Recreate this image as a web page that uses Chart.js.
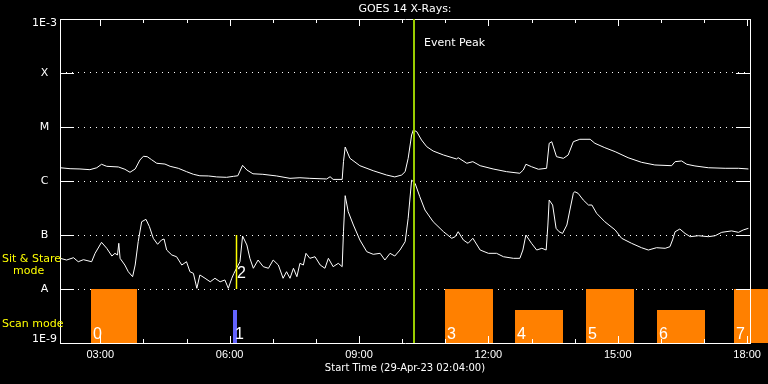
<!DOCTYPE html>
<html>
<head>
<meta charset="utf-8">
<script src="https://cdn.jsdelivr.net/npm/chart.js@4"></script>
<style>
  html, body { margin: 0; padding: 0; background: #000; }
</style>
</head>
<body>
<canvas id="goesChart" width="768" height="384"></canvas>
<script>
// GOES 14 X-ray flux (W/m2), 29-Apr-23, time in decimal hours UT
const longT = [2.07, 2.30, 2.53, 2.76, 2.92, 3.03, 3.15, 3.42, 3.57, 3.69,
  3.81, 3.92, 4.00, 4.09, 4.19, 4.31, 4.50, 4.62, 4.81, 5.00,
  5.16, 5.31, 5.51, 5.70, 5.93, 6.09, 6.19, 6.30, 6.40, 6.54,
  6.77, 7.09, 7.40, 7.63, 7.86, 8.25, 8.33, 8.40, 8.61, 8.64,
  8.68, 8.79, 9.02, 9.33, 9.64, 9.83, 9.99, 10.07, 10.14, 10.22,
  10.26, 10.34, 10.45, 10.57, 10.72, 10.96, 11.26, 11.30, 11.50, 11.64,
  11.81, 12.11, 12.42, 12.73, 12.81, 12.87, 13.00, 13.16, 13.35, 13.41,
  13.47, 13.58, 13.74, 13.85, 13.97, 14.12, 14.36, 14.47, 14.70, 14.94,
  15.24, 15.55, 15.86, 16.25, 16.33, 16.48, 16.60, 16.79, 17.10, 17.49,
  17.80, 18.03];
const longF = [1.76e-6, 1.69e-6, 1.67e-6, 1.62e-6, 1.76e-6, 2.04e-6, 1.87e-6, 1.82e-6, 1.65e-6, 1.45e-6,
  1.67e-6, 2.45e-6, 2.87e-6, 2.82e-6, 2.48e-6, 2.13e-6, 2.06e-6, 1.87e-6, 1.72e-6, 1.49e-6,
  1.33e-6, 1.25e-6, 1.24e-6, 1.19e-6, 1.17e-6, 1.22e-6, 1.25e-6, 1.95e-6, 1.60e-6, 1.36e-6,
  1.33e-6, 1.24e-6, 1.12e-6, 1.15e-6, 1.12e-6, 1.09e-6, 1.20e-6, 1.07e-6, 1.07e-6, 2.28e-6,
  4.26e-6, 2.63e-6, 1.92e-6, 1.55e-6, 1.29e-6, 1.19e-6, 1.29e-6, 1.49e-6, 2.63e-6, 7.11e-6,
  8.80e-6, 8.18e-6, 5.74e-6, 4.32e-6, 3.59e-6, 3.03e-6, 2.56e-6, 2.70e-6, 2.13e-6, 2.28e-6,
  1.92e-6, 1.67e-6, 1.49e-6, 1.39e-6, 1.60e-6, 2.04e-6, 1.84e-6, 1.65e-6, 1.72e-6, 4.99e-6,
  5.34e-6, 2.82e-6, 2.63e-6, 3.03e-6, 5.34e-6, 5.92e-6, 5.92e-6, 4.99e-6, 4.14e-6, 3.49e-6,
  2.70e-6, 2.22e-6, 1.98e-6, 1.92e-6, 2.28e-6, 2.35e-6, 2.04e-6, 1.90e-6, 1.76e-6, 1.72e-6,
  1.72e-6, 1.67e-6];

const shortT = [2.07, 2.22, 2.38, 2.49, 2.61, 2.80, 2.88, 3.03, 3.15, 3.27,
  3.34, 3.40, 3.43, 3.46, 3.57, 3.65, 3.75, 3.81, 3.88, 3.96,
  4.06, 4.14, 4.23, 4.33, 4.42, 4.48, 4.54, 4.66, 4.77, 4.89,
  5.00, 5.08, 5.16, 5.24, 5.31, 5.43, 5.55, 5.66, 5.78, 5.89,
  5.97, 6.05, 6.10, 6.16, 6.24, 6.30, 6.40, 6.47, 6.55, 6.66,
  6.78, 6.90, 7.01, 7.13, 7.24, 7.32, 7.40, 7.48, 7.56, 7.63,
  7.71, 7.77, 7.86, 7.98, 8.10, 8.21, 8.29, 8.40, 8.52, 8.61,
  8.64, 8.68, 8.75, 8.87, 9.02, 9.18, 9.33, 9.49, 9.60, 9.72,
  9.83, 9.95, 10.07, 10.14, 10.22, 10.30, 10.41, 10.53, 10.72, 10.96,
  11.15, 11.23, 11.30, 11.42, 11.53, 11.64, 11.81, 12.00, 12.19, 12.35,
  12.58, 12.73, 12.80, 12.87, 13.00, 13.12, 13.24, 13.34, 13.38, 13.41,
  13.49, 13.57, 13.64, 13.72, 13.82, 13.89, 13.97, 14.00, 14.08, 14.20,
  14.32, 14.40, 14.51, 14.70, 14.94, 15.09, 15.32, 15.55, 15.71, 15.90,
  16.10, 16.21, 16.27, 16.33, 16.44, 16.56, 16.68, 16.87, 17.10, 17.26,
  17.41, 17.64, 17.80, 17.91, 18.03];
const shortF = [3.70e-8, 3.44e-8, 3.80e-8, 3.20e-8, 3.49e-8, 3.20e-8, 4.58e-8, 7.32e-8, 5.67e-8, 4.08e-8,
  4.58e-8, 4.26e-8, 7.02e-8, 3.70e-8, 2.78e-8, 2.09e-8, 1.69e-8, 2.78e-8, 7.52e-8, 1.76e-7,
  1.95e-7, 1.43e-7, 8.69e-8, 6.73e-8, 8.08e-8, 8.43e-8, 5.27e-8, 4.26e-8, 3.96e-8, 2.78e-8,
  3.20e-8, 2.09e-8, 1.95e-8, 1.03e-8, 1.82e-8, 1.58e-8, 1.36e-8, 1.58e-8, 1.36e-8, 1.47e-8,
  1.03e-8, 1.58e-8, 1.95e-8, 2.42e-8, 3.20e-8, 9.58e-8, 6.53e-8, 3.70e-8, 2.42e-8, 3.44e-8,
  2.59e-8, 2.42e-8, 3.44e-8, 2.78e-8, 1.58e-8, 2.09e-8, 1.58e-8, 2.42e-8, 1.69e-8, 2.99e-8,
  2.78e-8, 4.58e-8, 3.70e-8, 3.96e-8, 2.78e-8, 2.42e-8, 3.70e-8, 2.59e-8, 2.99e-8, 2.59e-8,
  1.15e-7, 5.35e-7, 2.70e-7, 1.53e-7, 8.08e-8, 4.91e-8, 4.39e-8, 4.58e-8, 3.44e-8, 4.58e-8,
  4.08e-8, 5.27e-8, 7.52e-8, 2.04e-7, 1.04e-6, 9.06e-7, 5.12e-7, 2.90e-7, 1.76e-7, 1.15e-7,
  8.69e-8, 9.30e-8, 1.15e-7, 8.08e-8, 7.02e-8, 8.69e-8, 5.27e-8, 4.58e-8, 4.58e-8, 3.96e-8,
  3.70e-8, 3.70e-8, 5.27e-8, 1.00e-7, 7.02e-8, 5.27e-8, 5.67e-8, 5.27e-8, 1.53e-7, 4.45e-7,
  3.59e-7, 1.33e-7, 1.15e-7, 1.07e-7, 1.53e-7, 2.90e-7, 5.92e-7, 6.34e-7, 5.92e-7, 4.45e-7,
  3.59e-7, 3.59e-7, 2.52e-7, 1.76e-7, 1.24e-7, 8.69e-8, 7.02e-8, 5.82e-8, 5.27e-8, 5.82e-8,
  5.67e-8, 6.07e-8, 8.08e-8, 1.15e-7, 1.29e-7, 1.07e-7, 9.30e-8, 9.70e-8, 9.30e-8, 9.70e-8,
  1.12e-7, 1.19e-7, 1.12e-7, 1.24e-7, 1.33e-7];

// axes
const xMin = 2 + 4 / 60;   // 02:04
const xMax = 18 + 4 / 60;
const hourTicks = [3, 4, 5, 6, 7, 8, 9, 10, 11, 12, 13, 14, 15, 16, 17, 18];
const hourLabels = ['03:00', '', '', '06:00', '', '', '09:00', '', '', '12:00', '', '', '15:00', '', '', '18:00'];
const yTickVals = [1e-9, 1e-8, 1e-7, 1e-6, 1e-5, 1e-4, 1e-3];
const yTickLabels = ['1E-9', 'A', 'B', 'C', 'M', 'X', '1E-3'];

// instrument modes
const scanNames = ['0', '1', '3', '4', '5', '6', '7'];
const scanStart = [2.79, 6.07, 10.99, 12.62, 14.26, 15.91, 17.70];
const scanEnd = [3.85, 6.17, 12.11, 13.73, 15.38, 17.02, 18.48];
const scanTop = [1e-8, 4.1e-9, 1e-8, 4.1e-9, 1e-8, 4.1e-9, 1e-8];
const stareNames = ['2'];
const stareTimes = [6.15];
const eventPeak = 10.28;

const ORANGE = '#ff8000';
const BLUE = '#6464ff';
const YELLOW = '#ffff00';
const GREEN = '#99cc00';

const goesOverlay = {
  id: 'goesOverlay',
  beforeDraw(chart) {
    const ctx = chart.ctx;
    ctx.save();
    ctx.fillStyle = '#000';
    ctx.fillRect(0, 0, chart.width, chart.height);
    ctx.restore();
  },
  beforeDatasetsDraw(chart) {
    const {ctx, scales: {x, y}} = chart;
    ctx.save();
    const yb = y.getPixelForValue(1e-9);
    scanStart.forEach((t0, i) => {
      const x0 = x.getPixelForValue(t0);
      const x1 = x.getPixelForValue(scanEnd[i]);
      const yt = y.getPixelForValue(scanTop[i]);
      ctx.fillStyle = scanNames[i] === '1' ? BLUE : ORANGE;
      ctx.fillRect(Math.round(x0), Math.round(yt), Math.round(x1) - Math.round(x0), Math.round(yb) - Math.round(yt));
    });
    ctx.restore();
  },
  afterDatasetsDraw(chart) {
    const {ctx, chartArea: a, scales: {x, y}} = chart;
    const L = Math.round(a.left), R = Math.round(a.right), T = Math.round(a.top), B = Math.round(a.bottom);
    ctx.save();
    ctx.strokeStyle = '#fff';
    ctx.lineWidth = 1;
    ctx.beginPath();
    ctx.rect(L + 0.5, T + 0.5, R - L, B - T);
    // y ticks, inside both sides
    yTickVals.forEach(v => {
      const py = Math.round(y.getPixelForValue(v)) + 0.5;
      ctx.moveTo(L, py); ctx.lineTo(L + 14, py);
      ctx.moveTo(R - 14, py); ctx.lineTo(R + 1, py);
    });
    // x ticks, inside top and bottom
    hourTicks.forEach((h, i) => {
      const px = Math.round(x.getPixelForValue(h)) + 0.5;
      const len = hourLabels[i] ? 7 : 4;
      ctx.moveTo(px, B); ctx.lineTo(px, B - len);
      ctx.moveTo(px, T); ctx.lineTo(px, T + len);
    });
    ctx.stroke();

    // sit & stare marks
    ctx.strokeStyle = YELLOW;
    ctx.lineWidth = 1.5;
    stareTimes.forEach((t, i) => {
      const px = Math.round(x.getPixelForValue(t)) + 0.5;
      ctx.beginPath();
      ctx.moveTo(px, y.getPixelForValue(1e-7));
      ctx.lineTo(px, y.getPixelForValue(1e-8));
      ctx.stroke();
      ctx.fillStyle = '#fff';
      ctx.font = '16px "Liberation Sans"';
      ctx.textBaseline = 'alphabetic';
      ctx.fillText(stareNames[i], px + 0.5, y.getPixelForValue(1e-8) - 11);
    });

    // event peak
    const pe = Math.round(x.getPixelForValue(eventPeak));
    ctx.strokeStyle = GREEN;
    ctx.lineWidth = 2;
    ctx.beginPath();
    ctx.moveTo(pe, T);
    ctx.lineTo(pe, B);
    ctx.stroke();
    ctx.fillStyle = '#fff';
    ctx.font = '11px "DejaVu Sans"';
    ctx.textBaseline = 'middle';
    ctx.fillText('Event Peak', pe + 10, T + 24);

    // scan numbers
    ctx.font = '16px "Liberation Sans"';
    ctx.textBaseline = 'alphabetic';
    scanStart.forEach((t0, i) => {
      ctx.fillText(scanNames[i], Math.round(x.getPixelForValue(t0)) + 2, B - 4);
    });

    // mode captions
    ctx.fillStyle = YELLOW;
    ctx.font = '11px "DejaVu Sans"';
    ctx.textBaseline = 'middle';
    const stareMid = y.getPixelForValue(Math.pow(10, -7.5));
    const scanMid = y.getPixelForValue(Math.pow(10, -8.5));
    ctx.fillText('Sit & Stare', 2, stareMid - 3);
    ctx.fillText('mode', 13, stareMid + 9);
    ctx.fillText('Scan mode', 2, scanMid + 8);
    ctx.restore();
  }
};

new Chart(document.getElementById('goesChart'), {
  type: 'line',
  data: {
    datasets: [{
      label: '1-8 A',
      data: longT.map((t, i) => ({x: t, y: longF[i]})),
      borderColor: '#fff',
      borderWidth: 1,
      pointRadius: 0,
      tension: 0,
      fill: false
    }, {
      label: '0.5-4 A',
      data: shortT.map((t, i) => ({x: t, y: shortF[i]})),
      borderColor: '#fff',
      borderWidth: 1,
      pointRadius: 0,
      tension: 0,
      fill: false
    }]
  },
  options: {
    responsive: false,
    animation: false,
    devicePixelRatio: 1,
    layout: { padding: { left: 0, right: 18, top: 0, bottom: 0 } },
    plugins: {
      legend: { display: false },
      tooltip: { enabled: false },
      title: {
        display: true,
        fullSize: false,
        text: 'GOES 14 X-Rays:',
        color: '#fff',
        font: { family: 'DejaVu Sans', size: 11, weight: 'normal', lineHeight: 1.2 },
        padding: { top: 3, bottom: 2.8 }
      }
    },
    scales: {
      x: {
        type: 'linear',
        min: xMin,
        max: xMax,
        afterFit(s) { s.height = 41; },
        afterBuildTicks(s) { s.ticks = hourTicks.map(v => ({value: v})); },
        grid: { display: false, drawTicks: false },
        border: { display: false },
        ticks: {
          color: '#fff',
          autoSkip: false,
          maxRotation: 0,
          padding: 5,
          font: { family: 'Liberation Sans', size: 11 },
          callback: (v, i) => hourLabels[i]
        },
        title: {
          display: true,
          text: 'Start Time (29-Apr-23 02:04:00)',
          color: '#fff',
          font: { family: 'DejaVu Sans', size: 10 },
          padding: { top: 0, bottom: 10 }
        }
      },
      y: {
        type: 'logarithmic',
        min: 1e-9,
        max: 1e-3,
        afterFit(s) { s.width = 60; },
        afterBuildTicks(s) { s.ticks = yTickVals.map(v => ({value: v})); },
        grid: { color: '#fff', lineWidth: 1, drawTicks: false },
        border: { display: false, dash: [1, 5] },
        ticks: {
          color: '#fff',
          autoSkip: false,
          crossAlign: 'center',
          padding: 3,
          font: { family: 'DejaVu Sans', size: 11, lineHeight: 0.7 },
          callback: (v, i) => {
            const lab = yTickLabels[i];
            if (i === yTickLabels.length - 1) return ['', lab];
            if (i === 0) return [lab, ''];
            return lab;
          }
        }
      }
    }
  },
  plugins: [goesOverlay]
});
</script>
</body>
</html>
